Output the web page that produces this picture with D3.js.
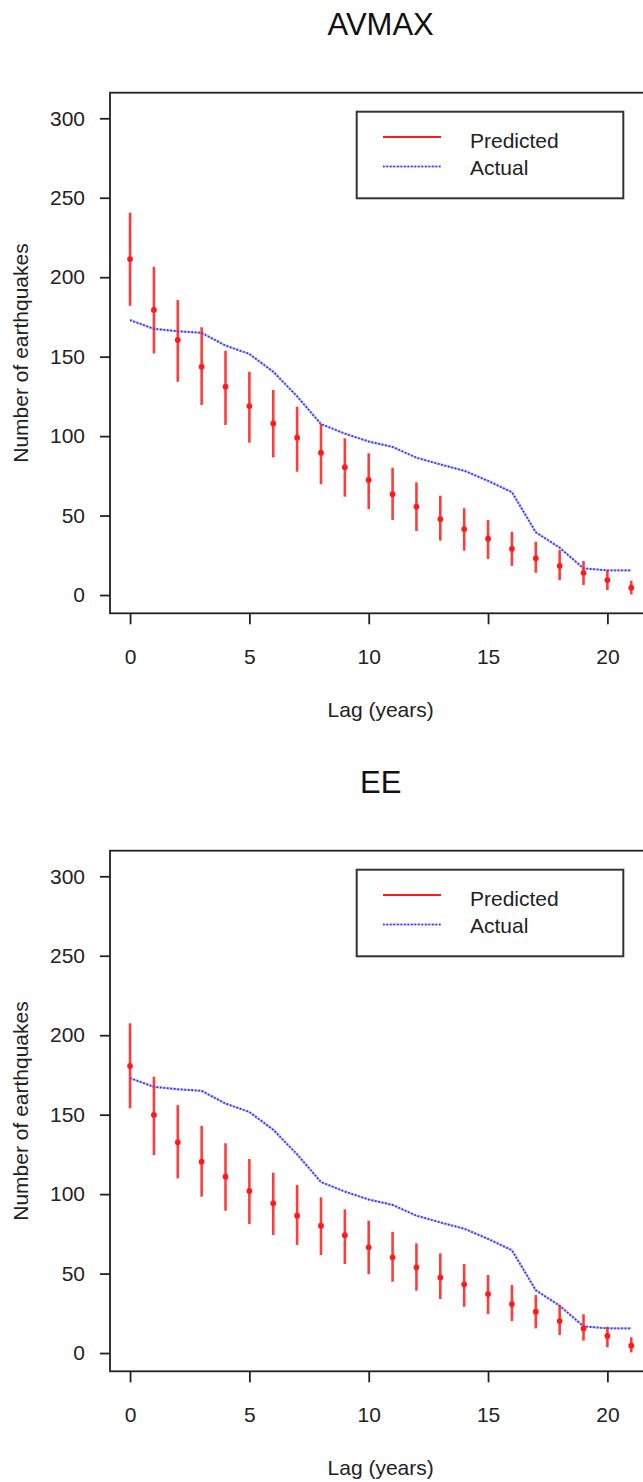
<!DOCTYPE html>
<html>
<head>
<meta charset="utf-8">
<script src="https://cdn.jsdelivr.net/npm/d3@7"></script>
<style>
  html, body { margin: 0; padding: 0; background: #fff; }
  svg { display: block; font-family: "Liberation Sans", Arial, sans-serif; }
</style>
</head>
<body>
<svg id="chart" width="643" height="1482"></svg>
<script>
// Lag in years
const lags = [0,1,2,3,4,5,6,7,8,9,10,11,12,13,14,15,16,17,18,19,20,21];

// Observed number of earthquakes at each lag (same in both panels)
const actual = [173,167.5,166,165,157,151.7,140.5,125,107.6,101.6,96.6,93.2,86.4,82.2,78.2,71.8,64.7,39.5,29.8,16.8,15.5,15.5];

// AVMAX model: predicted value with lower / upper interval
const avmaxPred = [211.4,179.4,160.5,143.7,131.1,118.9,108,99,89.6,80.4,72.4,63.4,55.6,47.8,41.5,35.4,29.1,23.1,18.4,14,9.4,4.6];
const avmaxLo   = [182,152,134.2,119.6,107,95.9,86.6,77.6,69.7,61.9,54.1,47.2,40.3,34.2,27.9,22.7,18.3,14,9.4,6.3,3.1,0.4];
const avmaxHi   = [240.6,206.6,185.6,168.5,153.7,140.5,129,118.5,107.6,98.6,89.2,80.1,70.9,62.5,54.6,47.2,39.8,33.5,28.3,21.4,15.7,9];

// EE model: predicted value with lower / upper interval
const eePred = [180.6,149.8,132.6,120.4,111,102,94.2,86.4,80.1,74.1,66.5,60.2,53.9,47.6,43.2,37.1,30.8,26,20.1,15.5,10.7,4.6];
const eeLo   = [154,124.6,109.9,98.4,89.6,81.2,74.3,68,61.7,56,49.7,44.9,39.2,34,29.1,24.5,20.1,15.5,11.3,7.8,3.6,0.4];
const eeHi   = [207.5,173.9,156,142.9,132,122.1,113.5,105.7,98,90.4,83.3,76.3,69,62.7,56,49.1,42.8,36.5,30.2,24.4,16.6,9.9];

const panelTitles = ["AVMAX", "EE"];
const xTicks = [0,5,10,15,20];
const yTicks = [0,50,100,150,200,250,300];
const legendLabels = ["Predicted", "Actual"];

const panels = [
  { title: panelTitles[0], pred: avmaxPred, lo: avmaxLo, hi: avmaxHi, top: 0 },
  { title: panelTitles[1], pred: eePred, lo: eeLo, hi: eeHi, top: 758 }
];

const svg = d3.select("#chart");
const box = { left: 110, right: 651.3, top: 92.7, bottom: 613.3 };

const x = d3.scaleLinear().domain([-0.84, 21.84]).range([box.left, box.right]);
const y = d3.scaleLinear().domain([-11.5, 316.1]).range([box.bottom, box.top]);

const RED = "#ff1a1a";
const BLUE = "#2a2aff";

panels.forEach(p => {
  const g = svg.append("g").attr("transform", `translate(0,${p.top})`);

  // title
  g.append("text")
    .attr("x", (box.left + box.right) / 2)
    .attr("y", 35)
    .attr("text-anchor", "middle")
    .attr("font-size", 31)
    .attr("fill", "#111")
    .text(p.title);

  // actual series (dotted blue)
  const line = d3.line().x((d, i) => x(lags[i])).y(d => y(d));
  g.append("path")
    .datum(actual)
    .attr("d", line)
    .attr("fill", "none")
    .attr("stroke", "#8c8cff")
    .attr("stroke-opacity", 0.55)
    .attr("stroke-width", 2.4);
  g.append("path")
    .datum(actual)
    .attr("d", line)
    .attr("fill", "none")
    .attr("stroke", BLUE)
    .attr("stroke-width", 1.8)
    .attr("stroke-dasharray", "1.6,1.9");

  // prediction intervals
  g.selectAll("line.err")
    .data(lags)
    .join("line")
    .attr("class", "err")
    .attr("x1", d => x(d)).attr("x2", d => x(d))
    .attr("y1", (d, i) => y(p.lo[i]))
    .attr("y2", (d, i) => y(p.hi[i]))
    .attr("stroke", RED)
    .attr("stroke-opacity", 0.85)
    .attr("stroke-width", 2.6);

  // predicted points
  g.selectAll("circle.pt")
    .data(lags)
    .join("circle")
    .attr("class", "pt")
    .attr("cx", d => x(d))
    .attr("cy", (d, i) => y(p.pred[i]))
    .attr("r", 2.9)
    .attr("fill", RED);

  // plot frame
  g.append("rect")
    .attr("x", box.left).attr("y", box.top)
    .attr("width", box.right - box.left)
    .attr("height", box.bottom - box.top)
    .attr("fill", "none")
    .attr("stroke", "#222")
    .attr("stroke-width", 1.8);

  // y axis
  const yAxis = g.append("g")
    .attr("transform", `translate(${box.left},0)`)
    .call(d3.axisLeft(y).tickValues(yTicks).tickSize(10).tickPadding(15));
  yAxis.select(".domain").remove();
  yAxis.selectAll(".tick line").attr("stroke", "#222").attr("stroke-width", 1.8);
  yAxis.selectAll(".tick text")
    .attr("font-size", 21)
    .attr("font-family", "Liberation Sans, Arial, sans-serif")
    .attr("fill", "#222");

  // x axis
  const xAxis = g.append("g")
    .attr("transform", `translate(0,${box.bottom})`)
    .call(d3.axisBottom(x).tickValues(xTicks).tickSize(11).tickPadding(25));
  xAxis.select(".domain").remove();
  xAxis.selectAll(".tick line").attr("stroke", "#222").attr("stroke-width", 1.8);
  xAxis.selectAll(".tick text")
    .attr("font-size", 21)
    .attr("font-family", "Liberation Sans, Arial, sans-serif")
    .attr("fill", "#222");

  // axis titles
  g.append("text")
    .attr("x", (box.left + box.right) / 2)
    .attr("y", 716.5)
    .attr("text-anchor", "middle")
    .attr("font-size", 21)
    .attr("fill", "#222")
    .text("Lag (years)");

  g.append("text")
    .attr("transform", `translate(28,${(box.top + box.bottom) / 2}) rotate(-90)`)
    .attr("text-anchor", "middle")
    .attr("font-size", 21)
    .attr("fill", "#222")
    .text("Number of earthquakes");

  // legend
  const lg = g.append("g");
  lg.append("rect")
    .attr("x", 356.7).attr("y", 111.7)
    .attr("width", 266.6).attr("height", 86.6)
    .attr("fill", "#fff")
    .attr("stroke", "#333")
    .attr("stroke-width", 2);
  lg.append("line")
    .attr("x1", 383).attr("x2", 441).attr("y1", 137).attr("y2", 137)
    .attr("stroke", RED).attr("stroke-width", 2);
  lg.append("line")
    .attr("x1", 383).attr("x2", 441).attr("y1", 166.5).attr("y2", 166.5)
    .attr("stroke", "#8c8cff").attr("stroke-opacity", 0.55).attr("stroke-width", 2.2);
  lg.append("line")
    .attr("x1", 383).attr("x2", 441).attr("y1", 166.5).attr("y2", 166.5)
    .attr("stroke", BLUE).attr("stroke-width", 1.6).attr("stroke-dasharray", "1.6,1.9");
  lg.selectAll("text.lab")
    .data(legendLabels)
    .join("text")
    .attr("class", "lab")
    .attr("x", 470)
    .attr("y", (d, i) => 148 + i * 27)
    .attr("font-size", 21)
    .attr("fill", "#222")
    .text(d => d);
});
</script>
</body>
</html>
